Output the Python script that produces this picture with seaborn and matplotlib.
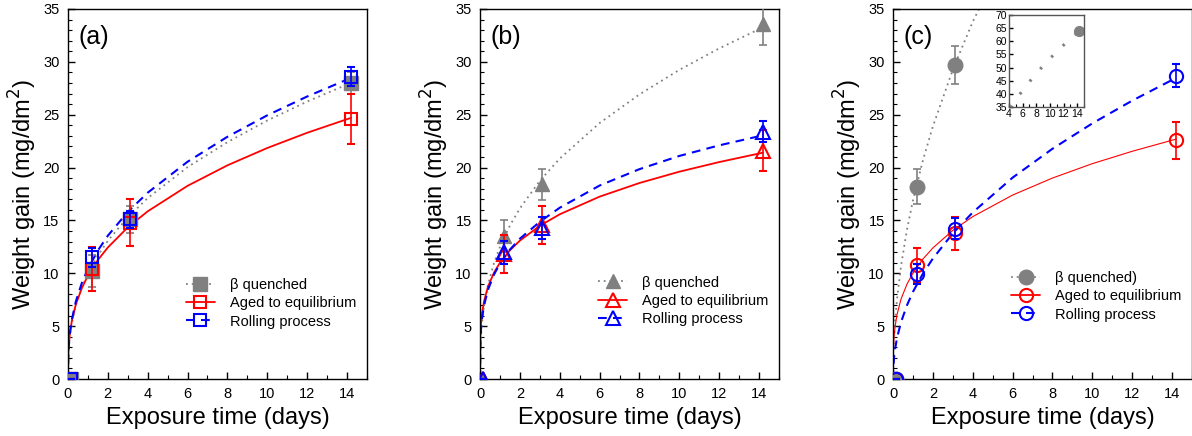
import seaborn as sns
import matplotlib.pyplot as plt
from matplotlib.lines import Line2D
from matplotlib.ticker import MultipleLocator

# measured points (days, mg/dm2) and error bars
t_pts = [0.13, 1.2, 3.1, 14.2]

a_quench = [0, 10.2, 15.1, 28.0]
a_quench_err = [0, 1.5, 1.3, 1.0]
a_aged = [0, 10.4, 14.8, 24.6]
a_aged_err = [0, 2.1, 2.2, 2.4]
a_roll = [0, 11.5, 15.1, 28.6]
a_roll_err = [0, 0.9, 0.8, 0.9]

b_quench = [0, 13.5, 18.4, 33.6]
b_quench_err = [0, 1.5, 1.5, 2.0]
b_aged = [0, 11.8, 14.6, 21.6]
b_aged_err = [0, 1.8, 1.8, 1.95]
b_roll = [0, 12.0, 14.3, 23.4]
b_roll_err = [0, 1.1, 1.05, 1.0]

c_quench = [0, 18.2, 29.7, 63.8]
c_quench_err = [0, 1.65, 1.8, 1.4]
c_aged = [0, 10.8, 13.8, 22.6]
c_aged_err = [0, 1.6, 1.55, 1.75]
c_roll = [0, 9.9, 14.2, 28.7]
c_roll_err = [0, 0.95, 1.0, 1.05]

# fitted curves at these times
fit_t = [0, 0.02, 0.05, 0.1, 0.2, 0.4, 0.7, 1, 1.5, 2, 3, 4, 6, 8, 10, 12, 14.2]
a_fit_quench = [0, 2.18, 3.11, 4.07, 5.34, 6.99, 8.69, 9.98, 11.68, 13.07, 15.30, 17.11, 20.04, 22.40, 24.45, 26.24, 28.01]
a_fit_aged = [0, 2.48, 3.42, 4.36, 5.56, 7.08, 8.61, 9.76, 11.25, 12.44, 14.34, 15.86, 18.27, 20.21, 21.85, 23.29, 24.70]
a_fit_roll = [0, 2.37, 3.35, 4.35, 5.66, 7.36, 9.10, 10.42, 12.15, 13.55, 15.80, 17.62, 20.55, 22.91, 24.94, 26.72, 28.48]
b_fit_quench = [0, 2.95, 4.14, 5.34, 6.90, 8.92, 10.96, 12.50, 14.52, 16.14, 18.75, 20.85, 24.21, 26.92, 29.24, 31.27, 33.27]
b_fit_aged = [0, 4.12, 5.19, 6.17, 7.34, 8.74, 10.06, 11.00, 12.18, 13.09, 14.49, 15.58, 17.25, 18.54, 19.61, 20.52, 21.41]
b_fit_roll = [0, 3.64, 4.71, 5.72, 6.95, 8.44, 9.88, 10.92, 12.24, 13.27, 14.87, 16.20, 18.30, 19.85, 21.10, 22.10, 23.05]
c_fit_quench = [0, 2.39, 3.78, 5.34, 7.56, 10.69, 14.14, 16.90, 20.70, 23.90, 29.27, 33.80, 41.40, 47.80, 53.44, 58.54, 63.68]
c_fit_aged = [0, 3.00, 3.98, 4.93, 6.10, 7.56, 8.98, 10.02, 11.35, 12.40, 14.06, 15.36, 17.40, 19.01, 20.37, 21.54, 22.69]
c_fit_roll = [0, 1.33, 2.04, 2.81, 3.89, 5.38, 6.98, 8.25, 9.97, 11.40, 13.78, 15.76, 19.05, 21.78, 24.18, 26.33, 28.48]

labels_ab = ["β quenched", "Aged to equilibrium", "Rolling process"]
labels_c = ["β quenched)", "Aged to equilibrium", "Rolling process"]

sns.set_style("ticks")
plt.rcParams["font.family"] = ["Liberation Sans", "DejaVu Sans"]
plt.rcParams.update({
    "axes.linewidth": 1.0,
    "axes.edgecolor": "black",
    "text.color": "black",
    "axes.labelcolor": "black",
})

GRAY, RED, BLUE = "#808080", "#ff0000", "#0000ff"
DOT = (0, (1, 2.2))
DASH = (0, (4.2, 3))


def style_ticks(ax, size, major_len, minor_len, pad):
    ax.tick_params(which="both", direction="in", bottom=True, left=True, top=False, right=False,
                   color="black", labelcolor="black")
    ax.tick_params(which="major", length=major_len, width=1.0, labelsize=size, pad=pad)
    ax.tick_params(which="minor", length=minor_len, width=0.8)


fig = plt.figure(figsize=(11.92, 4.36), dpi=100)

panels = [
    ("(a)", "s", 0.0570, a_quench, a_quench_err, a_aged, a_aged_err, a_roll, a_roll_err,
     a_fit_quench, a_fit_aged, a_fit_roll, labels_ab, 1.3, 0.205),
    ("(b)", "^", 0.4027, b_quench, b_quench_err, b_aged, b_aged_err, b_roll, b_roll_err,
     b_fit_quench, b_fit_aged, b_fit_roll, labels_ab, 1.3, 0.211),
    ("(c)", "o", 0.7492, c_quench, c_quench_err, c_aged, c_aged_err, c_roll, c_roll_err,
     c_fit_quench, c_fit_aged, c_fit_roll, labels_c, 0.8, 0.224),
]

for (tag, mk, left, q, qe, ag, age, ro, roe, fq, fa, fr, labs, red_lw, leg_y) in panels:
    ax = fig.add_axes([left, 0.1307, 0.2508, 0.8487])
    ms = 9.5 if mk != "s" else 8.5

    sns.lineplot(x=fit_t, y=fq, ax=ax, color=GRAY, linestyle=DOT, lw=1.3)
    sns.lineplot(x=fit_t, y=fa, ax=ax, color=RED, linestyle="-", lw=red_lw)
    sns.lineplot(x=fit_t, y=fr, ax=ax, color=BLUE, linestyle=DASH, lw=1.5)

    ax.errorbar(t_pts, q, yerr=qe, fmt=mk, ms=ms + 1, color=GRAY, mfc=GRAY, mec=GRAY,
                ecolor=GRAY, elinewidth=1.2, capsize=3.2, capthick=1.2, zorder=4)
    ax.errorbar(t_pts, ag, yerr=age, fmt=mk, ms=ms, color=RED, mfc="none", mec=RED, mew=1.5,
                ecolor=RED, elinewidth=1.2, capsize=3.2, capthick=1.2, zorder=5)
    ax.errorbar(t_pts, ro, yerr=roe, fmt=mk, ms=ms, color=BLUE, mfc="none", mec=BLUE, mew=1.5,
                ecolor=BLUE, elinewidth=1.2, capsize=3.2, capthick=1.2, zorder=6)

    ax.set_xlim(0, 15)
    ax.set_ylim(0, 35)
    ax.xaxis.set_major_locator(MultipleLocator(2))
    ax.xaxis.set_minor_locator(MultipleLocator(1))
    ax.yaxis.set_major_locator(MultipleLocator(5))
    ax.yaxis.set_minor_locator(MultipleLocator(1))
    style_ticks(ax, 10.5, 5, 3, 6)
    for s in ax.spines.values():
        s.set_visible(True)
        s.set_color("black")

    ax.set_xlabel("Exposure time (days)", fontsize=17, labelpad=4)
    ax.set_ylabel("Weight gain (mg/dm$^2$)", fontsize=17, labelpad=3)
    ax.text(0.035, 0.925, tag, transform=ax.transAxes, fontsize=18, va="center", ha="left")

    handles = [
        Line2D([], [], color=GRAY, linestyle=DOT, lw=1.3, marker=mk, ms=ms + 1, mfc=GRAY, mec=GRAY),
        Line2D([], [], color=RED, linestyle="-", lw=1.3, marker=mk, ms=ms, mfc="none", mec=RED, mew=1.5),
        Line2D([], [], color=BLUE, linestyle=DASH, lw=1.5, marker=mk, ms=ms, mfc="none", mec=BLUE, mew=1.5),
    ]
    ax.legend(handles, labs, loc="center left", bbox_to_anchor=(0.37, leg_y), frameon=False,
              fontsize=10.5, handlelength=2.0, handletextpad=1.0, labelspacing=0.3, borderpad=0)

    if tag == "(c)":
        ins = fig.add_axes([0.8465, 0.7546, 0.0629, 0.211])
        sns.lineplot(x=fit_t, y=c_fit_quench, ax=ins, color=GRAY, linestyle=(0, (0.8, 4.5)), lw=2.2)
        ins.errorbar(t_pts[-1:], c_quench[-1:], yerr=c_quench_err[-1:], fmt="o", ms=7, color=GRAY,
                     ecolor=GRAY, elinewidth=1.0, capsize=2.2, capthick=1.0)
        ins.set_xlim(4, 15)
        ins.set_ylim(35, 70)
        ins.xaxis.set_major_locator(MultipleLocator(2))
        ins.xaxis.set_minor_locator(MultipleLocator(1))
        ins.yaxis.set_major_locator(MultipleLocator(5))
        style_ticks(ins, 7.5, 3, 2, 1.5)
        for s in ins.spines.values():
            s.set_visible(True)
            s.set_color("#555555")

fig.savefig("out.png", dpi=100)
